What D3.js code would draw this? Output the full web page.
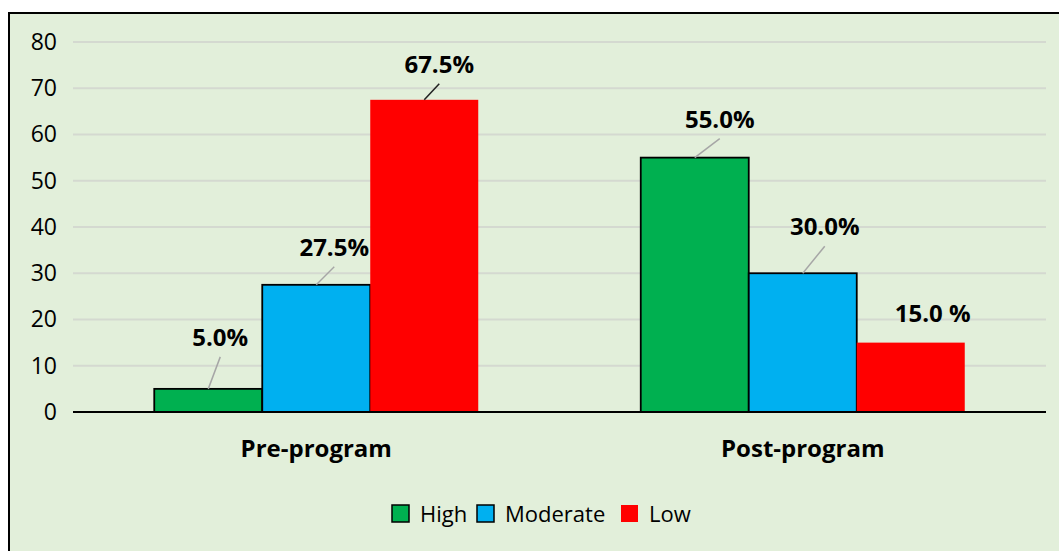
<!DOCTYPE html>
<html><head><meta charset="utf-8">
<script src="https://cdn.jsdelivr.net/npm/d3@7"></script>
<style>html,body{margin:0;padding:0;background:#fff;}svg{display:block;}</style>
</head><body>
<script>
const categories = ["Pre-program", "Post-program"];
const seriesNames = ["High", "Moderate", "Low"];
const high = [5.0, 55.0];
const moderate = [27.5, 30.0];
const low = [67.5, 15.0];
const labelTexts = [["5.0%", "55.0%"], ["27.5%", "30.0%"], ["67.5%", "15.0 %"]];
const yTicks = [0, 10, 20, 30, 40, 50, 60, 70, 80];
const colors = ["#00B050", "#00B0F0", "#FF0000"];
const strokes = ["#000", "#000", "none"];
// label offsets (dx, dy from bar-top centre to label baseline centre) and leader presence
const labelOffsets = [[[12, -43], [25, -30]], [[18, -29], [22, -38]], [[15, -27], [22, -21]]];
const hasLeader = [[true, true], [true, true], [true, false]];

(function () {
const W = 1059, H = 551;
const svg = d3.select("body").append("svg").attr("width", W).attr("height", H);
svg.append("rect").attr("x", 9).attr("y", 13).attr("width", W + 10).attr("height", H + 10)
  .attr("fill", "#E2EFDA").attr("stroke", "#000").attr("stroke-width", 2);

const mL = 73, mR = 1046, mT = 42, mB = 412;
const y = d3.scaleLinear().domain([0, 80]).range([mB, mT]);
const x0 = d3.scaleBand().domain(categories).range([mL, mR]).paddingInner(0).paddingOuter(0);
const groupW = x0.bandwidth() * 324 / 486.5;
const x1 = d3.scaleBand().domain(seriesNames).range([0, groupW]).padding(0);
const values = [high, moderate, low];
const font = "'Open Sans', sans-serif";

// gridlines
svg.append("g").selectAll("line").data(yTicks.slice(1)).join("line")
  .attr("x1", mL).attr("x2", mR).attr("y1", d => y(d)).attr("y2", d => y(d))
  .attr("stroke", "#D4D9D0").attr("stroke-width", 2);

// y axis labels
const yAxis = d3.axisLeft(y).tickValues(yTicks).tickSize(0).tickPadding(16);
const gy = svg.append("g").attr("transform", `translate(${mL},0)`).call(yAxis);
gy.select(".domain").remove();
gy.selectAll("text").attr("font-family", font).attr("font-size", 23).attr("fill", "#000");

// bars
const rows = [];
seriesNames.forEach((s, si) => categories.forEach((c, ci) => rows.push({s, si, c, ci, v: values[si][ci]})));
const gx = c => x0(c) + (x0.bandwidth() - groupW) / 2;
svg.append("g").selectAll("rect").data(rows).join("rect")
  .attr("x", d => gx(d.c) + x1(d.s)).attr("y", d => y(d.v))
  .attr("width", x1.bandwidth()).attr("height", d => y(0) - y(d.v))
  .attr("fill", d => colors[d.si]).attr("stroke", d => strokes[d.si]).attr("stroke-width", 1.8);

// x axis
const xAxis = d3.axisBottom(x0).tickSize(0).tickPadding(28);
const gxa = svg.append("g").attr("transform", `translate(0,${mB})`).call(xAxis);
gxa.select(".domain").attr("stroke", "#000").attr("stroke-width", 2).attr("d", `M${mL},0H${mR}`);
gxa.selectAll("text").attr("font-family", font).attr("font-size", 24).attr("font-weight", "bold").attr("fill", "#000");

// data labels
rows.forEach(d => {
  const cx = gx(d.c) + x1(d.s) + x1.bandwidth() / 2;
  const ty = y(d.v);
  const [dx, dy] = labelOffsets[d.si][d.ci];
  if (hasLeader[d.si][d.ci]) {
    svg.append("line").attr("x1", cx).attr("y1", ty)
      .attr("x2", cx + dx).attr("y2", ty + dy + 11)
      .attr("stroke", d.si === 2 ? "#222" : "#A6A6A6").attr("stroke-width", 1.5);
  }
  svg.append("text").attr("x", cx + dx).attr("y", ty + dy)
    .attr("text-anchor", "middle").attr("font-family", font).attr("font-size", 24).attr("font-weight", "bold")
    .text(labelTexts[d.si][d.ci]);
});

// legend
const legend = svg.append("g").attr("transform", "translate(392,505)");
const legendX = [0, 85, 229];
seriesNames.forEach((s, i) => {
  const g = legend.append("g").attr("transform", `translate(${legendX[i]},0)`);
  g.append("rect").attr("width", 17).attr("height", 17).attr("fill", colors[i])
    .attr("stroke", strokes[i]).attr("stroke-width", 1.5);
  g.append("text").attr("x", 28).attr("y", 17).attr("font-family", font).attr("font-size", 22).text(s);
});
})();
</script>
</body></html>
